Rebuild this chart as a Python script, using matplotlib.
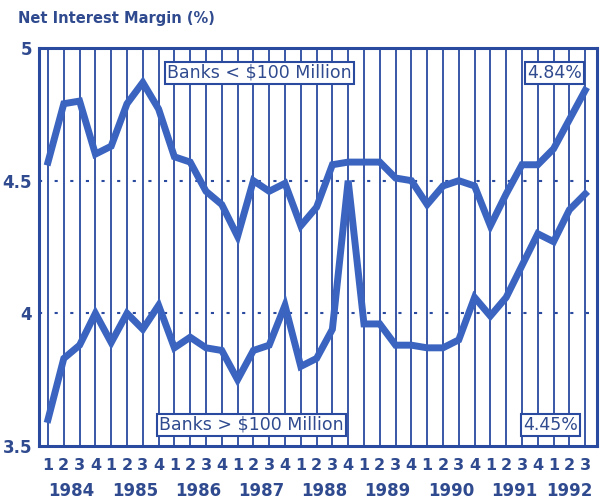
import matplotlib
matplotlib.use("Agg")
import matplotlib.pyplot as plt

years = ["1984", "1985", "1986", "1987", "1988", "1989", "1990", "1991", "1992"]
quarter_labels = ["1", "2", "3", "4"] * 8 + ["1", "2", "3"]

small_banks = [4.57, 4.79, 4.80, 4.60, 4.63, 4.79, 4.87, 4.77, 4.59, 4.57, 4.46, 4.41,
               4.29, 4.50, 4.46, 4.49, 4.33, 4.40, 4.56, 4.57, 4.57, 4.57, 4.51, 4.50,
               4.41, 4.48, 4.50, 4.48, 4.33, 4.45, 4.56, 4.56, 4.62, 4.73, 4.84]
large_banks = [3.60, 3.83, 3.88, 4.00, 3.89, 4.00, 3.94, 4.03, 3.87, 3.91, 3.87, 3.86,
               3.75, 3.86, 3.88, 4.03, 3.80, 3.83, 3.94, 4.50, 3.96, 3.96, 3.88, 3.88,
               3.87, 3.87, 3.90, 4.06, 3.99, 4.06, 4.18, 4.30, 4.27, 4.39, 4.45]

y_ticks = [3.5, 4, 4.5, 5]
y_tick_labels = ["3.5", "4", "4.5", "5"]

BLUE = "#3a64c0"
DARK = "#2a4aa0"
TEXT = "#2f4a8e"

fig = plt.figure(figsize=(6.03, 5.01), dpi=100)
ax = fig.add_axes([39/603, 1-446/501, (597-39)/603, (446-48)/501])

x = list(range(len(small_banks)))
for xi in x:
    ax.axvline(xi, color=DARK, lw=1.3, zorder=1)
for yv in (4.0, 4.5):
    ax.axhline(yv, color=DARK, lw=1.5, ls=(0, (1.5, 6)), zorder=1)

ax.plot(x, small_banks, color=BLUE, lw=5, solid_joinstyle="miter", zorder=3)
ax.plot(x, large_banks, color=BLUE, lw=5, solid_joinstyle="miter", zorder=3)

ax.set_xlim(-0.57, 34.75)
ax.set_ylim(3.5, 5)
for s in ax.spines.values():
    s.set_color(DARK)
    s.set_linewidth(2.2)

ax.set_yticks(y_ticks)
ax.set_yticklabels(y_tick_labels, fontweight="bold", fontsize=12, color=TEXT)
ax.tick_params(axis="y", length=0, pad=5)
ax.set_xticks(x)
ax.set_xticklabels(quarter_labels, fontsize=11.5, fontweight="bold", color=TEXT)
ax.tick_params(axis="x", length=0, pad=9)

for i, yr in enumerate(years):
    idx = [j for j in x if j // 4 == i]
    center = sum(idx) / len(idx)
    ax.text(center, -0.113, yr, transform=ax.get_xaxis_transform(), ha="center",
            va="center", fontsize=12, fontweight="bold", color=TEXT)

box = dict(boxstyle="square,pad=0.12", fc="white", ec=DARK, lw=1.5)
ax.text(7.55, 4.907, "Banks < $100 Million", fontsize=12.5, color=TEXT, va="center", ha="left", bbox=box, zorder=4)
ax.text(30.35, 4.907, "4.84%", fontsize=12.5, color=TEXT, va="center", ha="left", bbox=box, zorder=4)
ax.text(7.05, 3.58, "Banks > $100 Million", fontsize=12.5, color=TEXT, va="center", ha="left", bbox=box, zorder=4)
ax.text(30.1, 3.58, "4.45%", fontsize=12.5, color=TEXT, va="center", ha="left", bbox=box, zorder=4)

fig.text(18/603, 1-18/501, "Net Interest Margin (%)", fontsize=10.5, fontweight="bold",
         color=TEXT, ha="left", va="center")

fig.savefig("out.png", dpi=100)
